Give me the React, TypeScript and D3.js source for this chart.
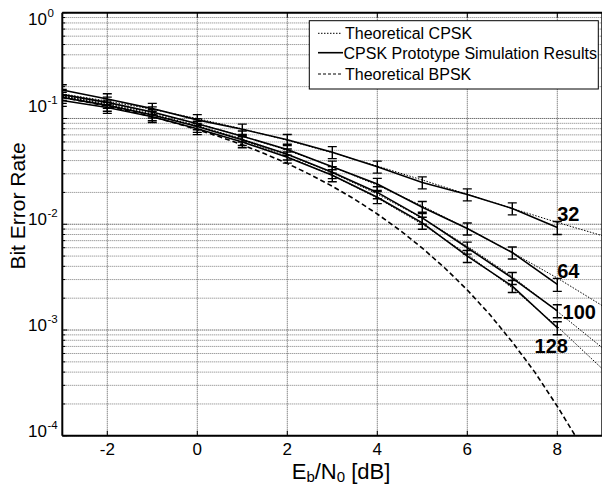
import React from "react";
import * as d3 from "d3";

// ---- data ----
const simEbN0 = [-3, -2, -1, 0, 1, 2, 3, 4, 5, 6, 7, 8];
const sim32 = [0.186, 0.153, 0.124, 0.097, 0.079, 0.063, 0.048, 0.035, 0.0248, 0.0191, 0.0141, 0.0093];
const sim64 = [0.168, 0.142, 0.115, 0.089, 0.068, 0.051, 0.035, 0.024, 0.0145, 0.0091, 0.0054, 0.0027];
const sim100 = [0.158, 0.133, 0.108, 0.084, 0.063, 0.046, 0.031, 0.020, 0.0115, 0.0060, 0.0031, 0.00152];
const sim128 = [0.148, 0.127, 0.104, 0.080, 0.060, 0.043, 0.029, 0.018, 0.0103, 0.0050, 0.0026, 0.00105];
const simRelErr = [0.12, 0.12, 0.12, 0.12, 0.12, 0.12, 0.13, 0.13, 0.13, 0.13, 0.13, 0.14];

const thEbN0 = [-3, -2, -1, 0, 1, 2, 3, 4, 5, 6, 7, 8, 9];
const th32 = [0.171, 0.146, 0.122, 0.0998, 0.0797, 0.0622, 0.0475, 0.0355, 0.0262, 0.0192, 0.0141, 0.0104, 0.0078];
const th64 = [0.165, 0.139, 0.113, 0.0896, 0.0682, 0.05, 0.035, 0.0234, 0.0149, 0.0091, 0.0054, 0.0031, 0.0017];
const th100 = [0.1625, 0.1357, 0.1099, 0.0857, 0.064, 0.0455, 0.0306, 0.0193, 0.0114, 0.0062, 0.0032, 0.0015, 0.00068];
const th128 = [0.1616, 0.1347, 0.1086, 0.0842, 0.0623, 0.0437, 0.0289, 0.0177, 0.01, 0.0052, 0.0025, 0.00108, 0.00043];

const bpskEbN0 = [-3, -2.5, -2, -1.5, -1, -0.5, 0, 0.5, 1, 1.5, 2, 2.5, 3, 3.5, 4, 4.5, 5, 5.5, 6, 6.5, 7, 7.5, 8, 8.4];
const bpsk = [0.158, 0.1444, 0.1307, 0.117, 0.1038, 0.0909, 0.0786, 0.0671, 0.0563, 0.0464, 0.0375, 0.0296, 0.0229, 0.0172, 0.0125, 0.0088, 0.00595, 0.00386, 0.00239, 0.0014, 0.00077, 0.0004, 0.00019, 0.0001];

const curveLabels = ["32", "64", "100", "128"];
const xTicks = [-2, 0, 2, 4, 6, 8];
const yDecadeExps = [0, -1, -2, -3, -4];
const legendLabels = ["Theoretical CPSK", "CPSK Prototype Simulation Results", "Theoretical BPSK"];

// ---- layout ----
const W = 602, H = 487;
const L = 62.3, R = 602.3, T = 12.7, B = 435.8;
const FONT = "'Liberation Sans', Arial, Helvetica, sans-serif";

export default function App() {
  const x = d3.scaleLinear().domain([-3, 9]).range([L, R]);
  const y = d3.scaleLog().domain([1, 1e-4]).range([T, B]);

  const sims = [sim32, sim64, sim100, sim128];
  const ths = [th32, th64, th100, th128];

  const simLine = d3.line<number>().x((_, i) => x(simEbN0[i])).y((d) => y(d));
  const thLine = d3.line<number>().x((_, i) => x(thEbN0[i])).y((d) => y(d));
  const bpskLine = d3.line<number>().x((_, i) => x(bpskEbN0[i])).y((d) => y(d));

  const minor: number[] = [];
  for (let e = -4; e < 0; e++) {
    for (let k = 2; k <= 9; k++) minor.push(k * Math.pow(10, e));
  }

  const labelOffsets = [
    [11, -14],
    [11, -13],
    [22, 1],
    [-6, 18],
  ];
  const labelYOffsets = [12, -6, 1, 1, 1];

  const capW = 4.5;

  return (
    <div style={{ position: "fixed", left: 0, top: 0 }}>
      <svg width={W} height={H} style={{ display: "block", background: "#fff" }} fontFamily={FONT}>
        <defs>
          <clipPath id="plotclip">
            <rect x={L} y={T} width={R - L} height={B - T} />
          </clipPath>
        </defs>
        <rect x={0} y={0} width={W} height={H} fill="#fff" />
        {/* grid */}
        <g>
          {minor.map((v, i) => (
            <line key={"m" + i} x1={L} x2={R} y1={y(v)} y2={y(v)} stroke="#7a7a7a" strokeWidth={1} strokeDasharray="1 1" />
          ))}
          {yDecadeExps.map((e) => (
            <line key={"M" + e} x1={L} x2={R} y1={y(Math.pow(10, e))} y2={y(Math.pow(10, e))} stroke="#333" strokeWidth={1} strokeDasharray="1 1" />
          ))}
          {xTicks.map((t) => (
            <line key={"x" + t} x1={x(t)} x2={x(t)} y1={T} y2={B} stroke="#555" strokeWidth={1} strokeDasharray="1 1" />
          ))}
        </g>
        {/* curves */}
        <g clipPath="url(#plotclip)">
          <path d={bpskLine(bpsk) || ""} fill="none" stroke="#000" strokeWidth={1.6} strokeDasharray="5 3" />
          {ths.map((t, i) => (
            <path key={"t" + i} d={thLine(t) || ""} fill="none" stroke="#000" strokeWidth={1} strokeDasharray="1.5 1.5" />
          ))}
          {sims.map((s, i) => (
            <path key={"s" + i} d={simLine(s) || ""} fill="none" stroke="#000" strokeWidth={1.6} />
          ))}
          {sims.map((s, i) =>
            s.map((v, j) => {
              const cx = x(simEbN0[j]);
              const hi = y(v * (1 + simRelErr[j]));
              const lo = y(v * (1 - simRelErr[j]));
              return (
                <g key={"e" + i + "-" + j} stroke="#000" strokeWidth={1.4}>
                  <line x1={cx} x2={cx} y1={hi} y2={lo} />
                  <line x1={cx - capW} x2={cx + capW} y1={hi} y2={hi} />
                  <line x1={cx - capW} x2={cx + capW} y1={lo} y2={lo} />
                </g>
              );
            })
          )}
        </g>
        {/* axes box */}
        <g stroke="#000" strokeWidth={2} fill="none">
          <line x1={L} x2={R} y1={T} y2={T} />
          <line x1={L} x2={R} y1={B} y2={B} />
          <line x1={L} x2={L} y1={T} y2={B} />
          <line x1={R} x2={R} y1={T} y2={B} />
        </g>
        {/* ticks */}
        <g stroke="#000" strokeWidth={1}>
          {xTicks.map((t) => (
            <g key={"xt" + t}>
              <line x1={x(t)} x2={x(t)} y1={B} y2={B - 5} />
              <line x1={x(t)} x2={x(t)} y1={T} y2={T + 5} />
            </g>
          ))}
          {yDecadeExps.map((e) => (
            <line key={"yt" + e} x1={L} x2={L + 5} y1={y(Math.pow(10, e))} y2={y(Math.pow(10, e))} />
          ))}
          {minor.map((v, i) => (
            <line key={"ymt" + i} x1={L} x2={L + 3} y1={y(v)} y2={y(v)} />
          ))}
        </g>
        {/* tick labels */}
        <g fill="#000">
          {xTicks.map((t) => (
            <text key={"xl" + t} x={x(t)} y={455} textAnchor="middle" fontSize={17}>
              {t < 0 ? "-" + Math.abs(t) : String(t)}
            </text>
          ))}
          {yDecadeExps.map((e, i) => (
            <text key={"yl" + e} x={47} y={y(Math.pow(10, e)) + labelYOffsets[i]} textAnchor="end" fontSize={17}>
              10
            </text>
          ))}
          {yDecadeExps.map((e, i) => (
            <text key={"ys" + e} x={47.5} y={y(Math.pow(10, e)) + labelYOffsets[i] - 8} fontSize={11.5}>
              {String(e)}
            </text>
          ))}
        </g>
        {/* axis titles */}
        <text x={341} y={479} textAnchor="middle" fontSize={22}>
          E<tspan fontSize={15} dy={3}>b</tspan>
          <tspan dy={-3}>/N</tspan>
          <tspan fontSize={15} dy={3}>0</tspan>
          <tspan dy={-3}> [dB]</tspan>
        </text>
        <text transform={`translate(25,206) rotate(-90)`} textAnchor="middle" fontSize={21}>
          Bit Error Rate
        </text>
        {/* curve labels */}
        {curveLabels.map((lab, i) => (
          <text
            key={"cl" + lab}
            x={x(8) + labelOffsets[i][0]}
            y={y(sims[i][sims[i].length - 1]) + labelOffsets[i][1] + 7}
            textAnchor="middle"
            fontSize={20}
            fontWeight="bold"
          >
            {lab}
          </text>
        ))}
        {/* legend */}
        <g>
          <rect x={309.3} y={20.7} width={289} height={68.3} fill="#fff" stroke="#000" strokeWidth={1} />
          <line x1={318} x2={342} y1={33.3} y2={33.3} stroke="#000" strokeWidth={1} strokeDasharray="1.5 1.5" />
          <line x1={318} x2={343} y1={52.7} y2={52.7} stroke="#000" strokeWidth={1.6} />
          <line x1={318} x2={342} y1={74} y2={74} stroke="#000" strokeWidth={1} strokeDasharray="3 2" />
          <text x={345} y={39} fontSize={16}>{legendLabels[0]}</text>
          <text x={343.5} y={58.5} fontSize={16}>{legendLabels[1]}</text>
          <text x={345} y={79.8} fontSize={16}>{legendLabels[2]}</text>
        </g>
      </svg>
    </div>
  );
}
